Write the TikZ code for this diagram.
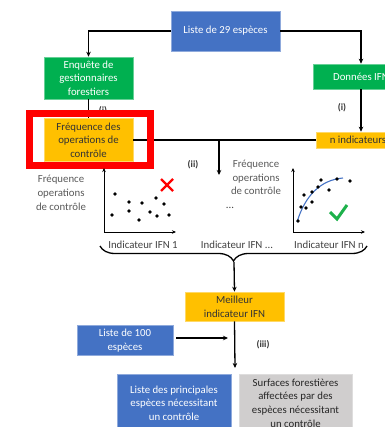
\documentclass[tikz,border=0pt]{standalone}
\usepackage{fontspec}
\setmainfont{Carlito}
\usetikzlibrary{arrows.meta, decorations.pathreplacing, positioning}
\definecolor{ifnblue}{HTML}{4472C4}
\definecolor{ifngreen}{HTML}{00B050}
\definecolor{ifnorange}{HTML}{FFC000}
\definecolor{ifngray}{HTML}{D0CECE}
\definecolor{labelgray}{HTML}{595959}
\definecolor{curveblue}{HTML}{4472C4}
\definecolor{okgreen}{HTML}{1DB14B}

\begin{document}
\begin{tikzpicture}[x=1pt, y=-1pt,
    box/.style={rectangle, inner sep=1pt, align=center, line width=0.6pt,
                font=\fontsize{10.8}{13.6}\selectfont},
    bluebox/.style={box, fill=ifnblue, draw=ifnblue!60!white, text=white},
    greenbox/.style={box, fill=ifngreen, draw=ifngreen!60!white, text=white},
    orangebox/.style={box, fill=ifnorange, draw=ifnorange!60!white, text=black!80},
    graybox/.style={box, fill=ifngray, draw=ifngray!70!white, text=black!85},
    flow/.style={-{Stealth[length=5pt, width=4.5pt]}, line width=1.3pt},
    link/.style={line width=1.3pt},
    axis/.style={-{Stealth[length=4pt, width=3.5pt]}, line width=1pt},
    axislabel/.style={text=labelgray, align=center, font=\fontsize{10.8}{13.8}\selectfont},
    xlabel/.style={text=black!75, font=\fontsize{10.8}{12}\selectfont},
    tag/.style={font=\fontsize{9.5}{11}\selectfont\bfseries, text=black!80}]

    \useasboundingbox (0,0) rectangle (384,427);

    % Boxes:
    \node[bluebox, minimum width=109pt, minimum height=40pt] (liste29) at (225.5,31) {Liste de 29 espèces};
    \node[greenbox, minimum width=89pt, minimum height=42pt] (enquete) at (88.5,78) {Enquête de\\gestionnaires\\forestiers};
    \node[greenbox, minimum width=96pt, minimum height=25pt] (donnees) at (361,76.5) {Données IFN};
    \node[orangebox, minimum width=89pt, minimum height=43pt] (frequence) at (88.5,140) {Fréquence des\\operations de\\contrôle};
    \node[orangebox, minimum width=84pt, minimum height=16pt] (nindic) at (358,140) {n indicateurs};
    \node[orangebox, minimum width=99pt, minimum height=29pt] (meilleur) at (234.5,306.5) {Meilleur\\indicateur IFN};
    \node[bluebox, minimum width=96pt, minimum height=30pt] (liste100) at (125,340.5) {Liste de 100\\espèces};
    \node[bluebox, minimum width=114pt, minimum height=58pt] (principales) at (174,403) {Liste des principales\\espèces nécessitant\\un contrôle};
    \node[graybox, minimum width=113pt, minimum height=58pt] (surfaces) at (295.5,403) {Surfaces forestières\\affectées par des\\espèces nécessitant\\un contrôle};

    % Connectors:
    \draw[flow] (liste29.west) -| (enquete.north);
    \draw[flow] (liste29.east) -| (donnees.north);
    \draw[link] (enquete) -- (frequence);
    \draw[flow] (donnees.south) -- (donnees.south |- nindic.north);
    \coordinate (split) at (219,140);
    \coordinate (splitend) at (219,175);
    \draw[link] (frequence.east) -- (nindic.west);
    \draw[flow] (split) -- (splitend);
    \node[tag] (ia) at (103,111) {(i)};
    \node[tag] (ib) at (342,108) {(i)};
    \node[tag] (ii) at (193,165) {(ii)};
    \node[tag] (iii) at (263,345) {(iii)};

    % Highlight:
    \node[draw=red, line width=7pt, minimum width=121pt, minimum height=52pt] (highlight) at (90,139.5) {};

    % Axes:
    \draw[axis] (104,232) -- (104,168);
    \draw[axis] (104,232) -- (176,232);
    \draw[axis] (293,232) -- (293,168);
    \draw[axis] (293,232) -- (365,232);

    \node[axislabel] (yleft) at (61,193) {Fréquence\\operations\\de contrôle};
    \node[axislabel] (ymid) at (256,177.5) {Fréquence\\operations\\de contrôle};
    \node[xlabel] (dots) at (230,208) {...};
    \node[xlabel] (ifn1) at (143,245) {Indicateur IFN 1};
    \node[xlabel] (ifnmid) at (237,245) {Indicateur IFN ...};
    \node[xlabel] (ifnn) at (329,245) {Indicateur IFN n};

    % Scatter points:
    \foreach \px/\py in {115/194, 129/202, 142/203, 156/198, 164/204, 112/215,
                         129/211, 150/212, 139/220, 157/216, 169/215}
        \fill (\px,\py) circle (1.8pt);
    \draw[curveblue, line width=1.1pt] (297,222) .. controls (305,196) and (320,180) .. (343,178);
    \foreach \px/\py in {298/221, 301/207, 306/208, 304/195, 312/192, 312/202,
                         318/187, 321/180, 329/190, 337/179, 350/181}
        \fill (\px,\py) circle (1.8pt);

    % Marks:
    \draw[red, line width=2.4pt] (161,179) -- (173,191) (173,179) -- (161,191);
    \draw[okgreen, line width=3pt] (330,212) -- (337,219) -- (347,205);

    % Brace:
    \draw[line width=1.3pt, decorate, decoration={brace, mirror, amplitude=15pt}] (100,246) -- (367,246);
    \coordinate (bracetip) at (234,262);
    \draw[flow] (bracetip) -- (meilleur.north);
    \coordinate (listend) at (235,368);
    \draw[flow] (meilleur.south) -- (listend);
    \coordinate (joinend) at (228,338);
    \draw[flow, shorten <=3pt] (liste100.east |- joinend) -- (joinend);
\end{tikzpicture}
\end{document}
